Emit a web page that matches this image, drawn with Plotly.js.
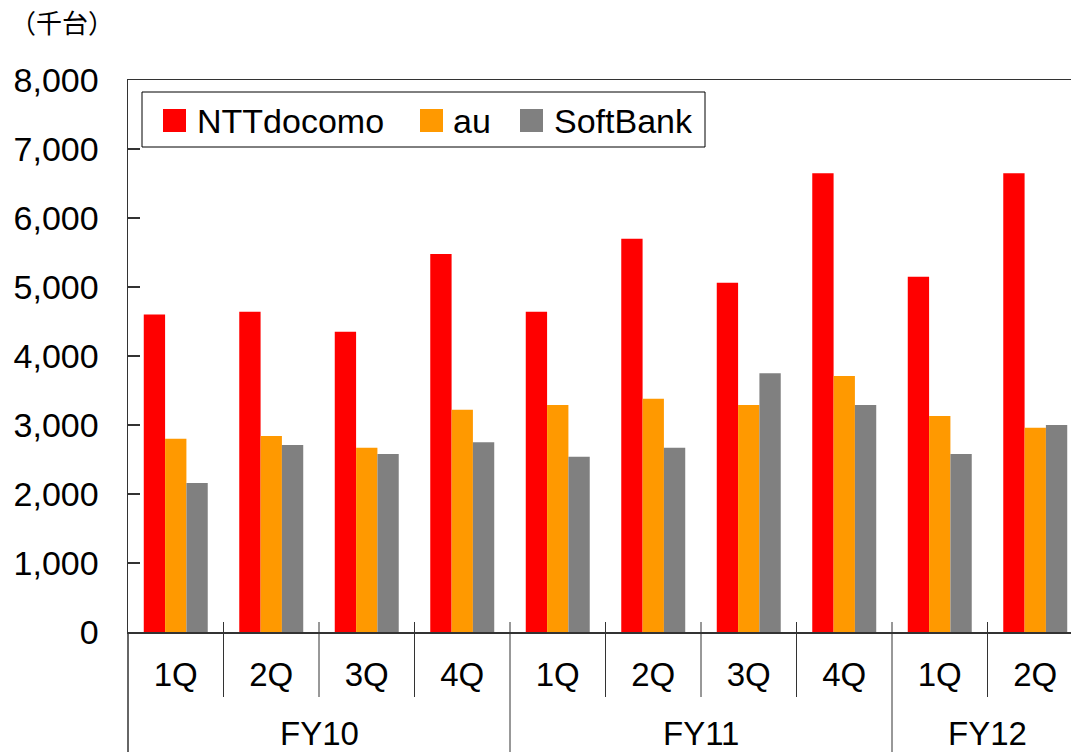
<!DOCTYPE html>
<html>
<head>
<meta charset="utf-8">
<script src="https://cdn.plot.ly/plotly-3.0.1.min.js"></script>
<style>html,body{margin:0;padding:0;overflow:hidden;background:#fff}</style>
</head>
<body>
<div id="chart" style="width:1071px;height:752px"></div>
<script>
// ---- data ----
const years    = ["FY10","FY10","FY10","FY10","FY11","FY11","FY11","FY11","FY12","FY12"];
const quarters = ["1Q","2Q","3Q","4Q","1Q","2Q","3Q","4Q","1Q","2Q"];
const seriesNames = ["NTTdocomo","au","SoftBank"];
const docomo   = [4600,4640,4350,5480,4640,5700,5060,6650,5150,6650];
const au       = [2800,2840,2670,3220,3290,3380,3290,3710,3130,2960];
const softbank = [2160,2710,2580,2750,2540,2670,3750,3290,2580,3000];
const unitLabel = "（千台）";

// ---- layout helpers ----
const W = 1071, H = 752, L = 128, T = 80, B = 120;
const plotW = W - L, plotH = H - T - B;
const catPx = 95.5;
const px = x => (x - L) / plotW;
const py = y => (H - B - y) / plotH;
const FONT = "Liberation Sans, Arial, sans-serif";
const colors = ["#FF0000", "#FF9900", "#808080"];
const idx = quarters.map((_, i) => i);

const traces = [docomo, au, softbank].map((vals, k) => ({
  type: "bar", x: idx, y: vals, name: seriesNames[k],
  marker: {color: colors[k], line: {width: 0}},
  showlegend: false, hoverinfo: "skip"
}));

const shapes = [];
const annotations = [];
// category dividers
for (let i = 0; i < quarters.length - 1; i++) {
  const groupEdge = years[i] !== years[i + 1];
  shapes.push({type: "line", xref: "x", yref: "paper",
    x0: i + 0.5, x1: i + 0.5, y0: py(622), y1: groupEdge ? py(752) : py(697),
    line: {color: "#333", width: 1}});
}
// left line continuing below axis
shapes.push({type: "line", xref: "paper", yref: "paper", x0: 0, x1: 0, y0: 0, y1: py(752),
  line: {color: "#333", width: 1.5}});
// year labels
const groups = [];
years.forEach((y, i) => {
  if (!groups.length || groups[groups.length - 1].name !== y) groups.push({name: y, s: i, e: i});
  else groups[groups.length - 1].e = i;
});
groups.forEach(g => annotations.push({xref: "x", yref: "paper", x: (g.s + g.e) / 2, y: py(733),
  text: g.name, showarrow: false, xanchor: "center", yanchor: "middle",
  font: {family: FONT, size: 33, color: "#000"}}));
// unit label
annotations.push({xref: "paper", yref: "paper", x: px(62), y: py(22), text: unitLabel,
  showarrow: false, xanchor: "center", yanchor: "middle",
  font: {family: "Noto Sans CJK JP, sans-serif", size: 26, color: "#000"}});
// legend (manual)
shapes.push({type: "rect", xref: "paper", yref: "paper", x0: px(142), x1: px(705), y0: py(147), y1: py(92),
  line: {color: "#000", width: 1}, fillcolor: "#fff", layer: "above"});
const legSq = [163, 420, 520], legTx = [195, 451, 552];
seriesNames.forEach((n, k) => {
  shapes.push({type: "rect", xref: "paper", yref: "paper", x0: px(legSq[k]), x1: px(legSq[k] + 23),
    y0: py(132), y1: py(109), line: {width: 0}, fillcolor: colors[k], layer: "above"});
  annotations.push({xref: "paper", yref: "paper", x: px(legTx[k]), y: py(121), text: n,
    showarrow: false, xanchor: "left", yanchor: "middle",
    font: {family: FONT, size: 34, color: "#000"}});
});

const layout = {
  width: W, height: H,
  margin: {l: L, r: 0, t: T, b: B, pad: 0},
  paper_bgcolor: "#fff", plot_bgcolor: "#fff",
  barmode: "group", bargap: 0.33, bargroupgap: 0,
  showlegend: false,
  xaxis: {
    type: "linear", range: [-0.5, -0.5 + plotW / catPx],
    tickvals: idx, ticktext: quarters, ticks: "",
    showgrid: false, zeroline: false,
    showline: true, linecolor: "#333", linewidth: 1.5, mirror: true,
    tickfont: {family: FONT, size: 33, color: "#000"},
    ticklabelstandoff: 13
  },
  yaxis: {
    range: [0, 8000], dtick: 1000, tickformat: ",d",
    ticks: "inside", ticklen: 12, tickcolor: "#333", tickwidth: 1.5,
    showgrid: false, zeroline: false,
    showline: true, linecolor: "#333", linewidth: 1.5,
    tickfont: {family: FONT, size: 34, color: "#000"},
    ticklabelstandoff: 21
  },
  shapes: shapes,
  annotations: annotations
};

Plotly.newPlot("chart", traces, layout, {staticPlot: true, displayModeBar: false});
</script>
</body>
</html>
